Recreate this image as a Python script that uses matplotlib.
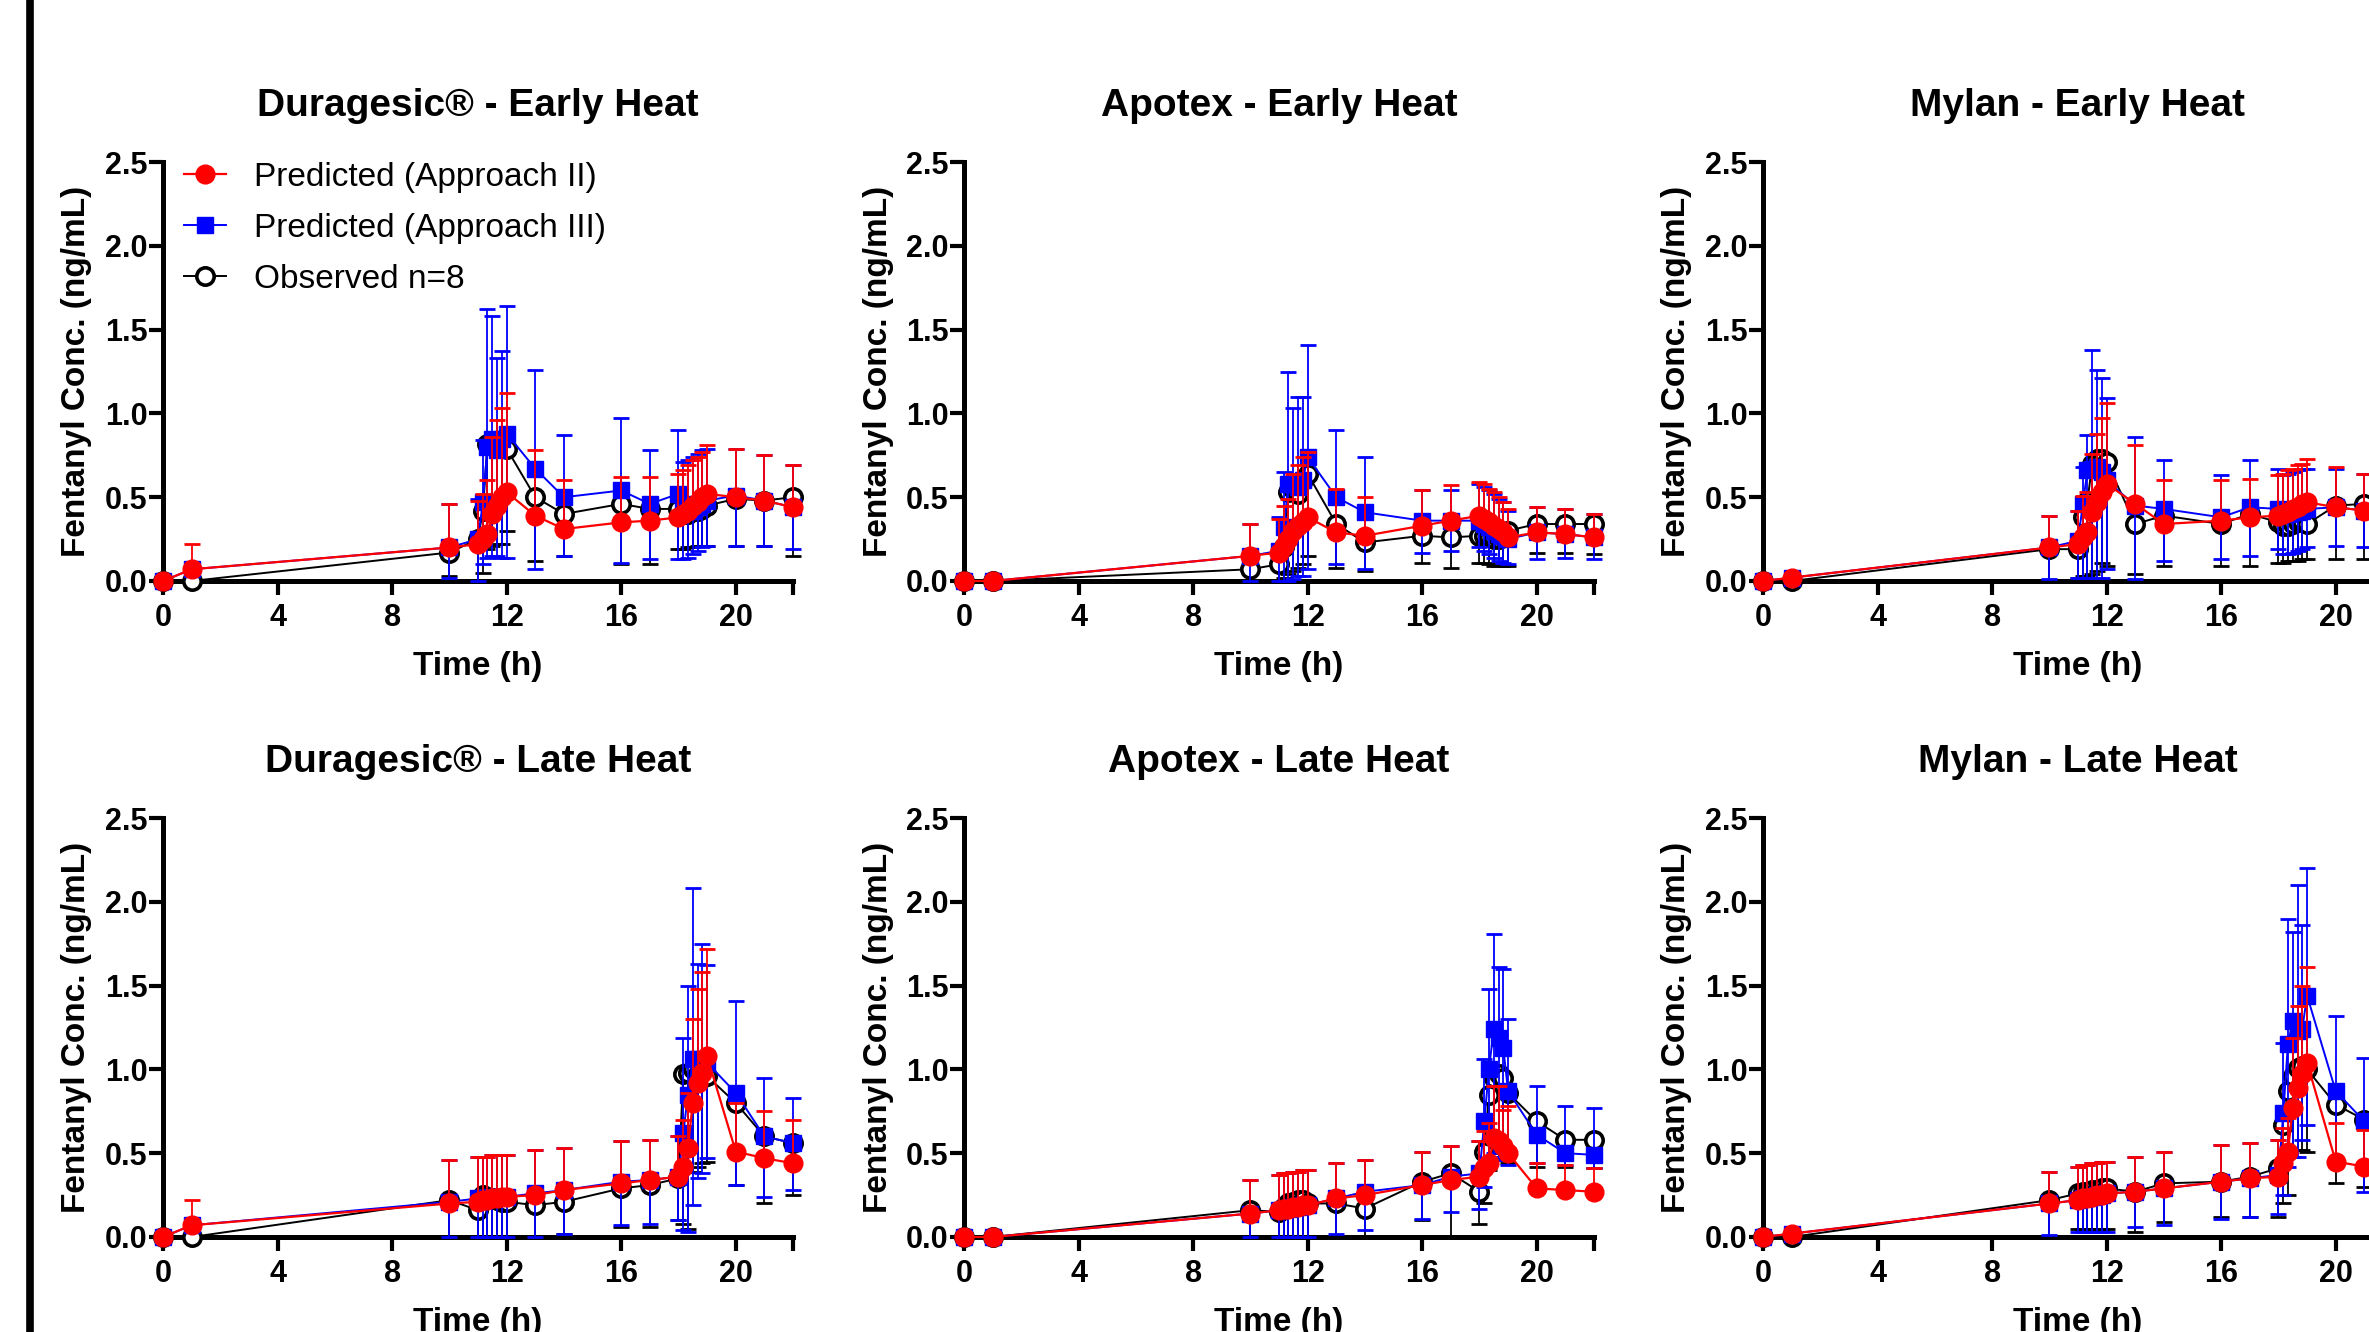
import numpy as np
import matplotlib
matplotlib.use('Agg')
import matplotlib.pyplot as plt
from matplotlib.lines import Line2D

plt.rcParams['font.family'] = ['Liberation Sans', 'DejaVu Sans']

W, H = 2369, 1332

# sampling times (h)
time_h = [0, 1, 10, 11, 11.17, 11.33, 11.5, 11.67, 11.83, 12, 13, 14, 16, 17,
          18, 18.17, 18.33, 18.5, 18.67, 18.83, 19, 20, 21, 22]

# ---- Duragesic - Early Heat
dur_e_red = [0, 0.07, 0.20, 0.22, 0.25, 0.28, 0.40, 0.45, 0.50, 0.53, 0.39, 0.31, 0.35, 0.36, 0.38, 0.40, 0.42, 0.45, 0.47, 0.50, 0.52, 0.50, 0.48, 0.44]
dur_e_red_hi = [0, 0.22, 0.46, 0.48, 0.52, 0.60, 0.86, 0.96, 1.03, 1.12, 0.78, 0.60, 0.62, 0.62, 0.64, 0.66, 0.69, 0.72, 0.74, 0.77, 0.81, 0.79, 0.75, 0.69]
dur_e_blue = [0, 0.07, 0.20, 0.25, 0.47, 0.80, 0.85, 0.78, 0.85, 0.88, 0.67, 0.50, 0.54, 0.46, 0.52, 0.46, 0.42, 0.42, 0.44, 0.46, 0.48, 0.51, 0.48, 0.44]
dur_e_blue_hi = [0, 0.07, 0.46, 0.49, 0.84, 1.62, 1.58, 1.33, 1.37, 1.64, 1.26, 0.87, 0.97, 0.78, 0.90, 0.71, 0.72, 0.74, 0.76, 0.78, 0.79, 0.79, 0.75, 0.69]
dur_e_blue_lo = [0, 0.07, 0.02, 0.0, 0.10, 0.14, 0.15, 0.15, 0.14, 0.14, 0.07, 0.15, 0.11, 0.13, 0.13, 0.13, 0.14, 0.16, 0.18, 0.20, 0.21, 0.21, 0.21, 0.19]
dur_e_obs = [0, 0, 0.17, 0.25, 0.42, 0.82, 0.83, 0.80, 0.80, 0.79, 0.50, 0.40, 0.46, 0.43, 0.43, 0.40, 0.40, 0.42, 0.42, 0.43, 0.45, 0.49, 0.48, 0.50]
dur_e_obs_lo = [0, 0, 0.03, 0.0, 0.05, 0.19, 0.21, 0.22, 0.22, 0.30, 0.12, 0.15, 0.10, 0.10, 0.19, 0.19, 0.20, 0.20, 0.21, 0.21, 0.21, 0.21, 0.21, 0.15]

# ---- Apotex - Early Heat
apo_e_red = [0, 0, 0.15, 0.17, 0.21, 0.25, 0.30, 0.33, 0.35, 0.38, 0.29, 0.27, 0.33, 0.36, 0.39, 0.37, 0.35, 0.33, 0.31, 0.29, 0.26, 0.29, 0.28, 0.26]
apo_e_red_hi = [0, 0, 0.34, 0.37, 0.45, 0.49, 0.64, 0.69, 0.74, 0.77, 0.55, 0.50, 0.54, 0.57, 0.59, 0.58, 0.55, 0.53, 0.50, 0.47, 0.43, 0.44, 0.43, 0.40]
apo_e_blue = [0, 0, 0.15, 0.18, 0.32, 0.58, 0.58, 0.56, 0.60, 0.74, 0.50, 0.41, 0.36, 0.36, 0.36, 0.34, 0.32, 0.30, 0.28, 0.27, 0.25, 0.29, 0.28, 0.26]
apo_e_blue_hi = [0, 0, 0.34, 0.38, 0.65, 1.25, 1.03, 1.10, 1.10, 1.41, 0.90, 0.74, 0.54, 0.54, 0.58, 0.56, 0.54, 0.52, 0.49, 0.47, 0.42, 0.44, 0.43, 0.40]
apo_e_blue_lo = [0, 0, 0.0, 0.0, 0.0, 0.0, 0.01, 0.03, 0.03, 0.07, 0.10, 0.07, 0.17, 0.18, 0.20, 0.18, 0.16, 0.14, 0.12, 0.11, 0.10, 0.13, 0.14, 0.13]
apo_e_obs = [0, 0, 0.07, 0.10, 0.20, 0.53, 0.55, 0.52, 0.60, 0.64, 0.34, 0.23, 0.27, 0.26, 0.27, 0.27, 0.26, 0.25, 0.25, 0.26, 0.30, 0.34, 0.34, 0.34]
apo_e_obs_lo = [0, 0, 0.0, 0.0, 0.02, 0.04, 0.06, 0.08, 0.10, 0.15, 0.08, 0.06, 0.11, 0.08, 0.11, 0.11, 0.10, 0.09, 0.09, 0.09, 0.09, 0.17, 0.17, 0.16]

# ---- Mylan - Early Heat
myl_e_red = [0, 0.02, 0.20, 0.22, 0.26, 0.29, 0.41, 0.47, 0.53, 0.58, 0.46, 0.34, 0.36, 0.38, 0.39, 0.40, 0.41, 0.43, 0.44, 0.46, 0.47, 0.44, 0.42, 0.41]
myl_e_red_hi = [0, 0.02, 0.39, 0.42, 0.51, 0.53, 0.76, 0.88, 0.97, 1.06, 0.81, 0.60, 0.60, 0.61, 0.63, 0.64, 0.66, 0.67, 0.69, 0.70, 0.73, 0.68, 0.64, 0.62]
myl_e_blue = [0, 0.02, 0.20, 0.24, 0.46, 0.66, 0.67, 0.68, 0.65, 0.60, 0.45, 0.43, 0.38, 0.44, 0.43, 0.40, 0.40, 0.41, 0.41, 0.42, 0.43, 0.44, 0.42, 0.41]
myl_e_blue_hi = [0, 0.02, 0.39, 0.42, 0.68, 0.87, 1.38, 1.26, 1.21, 1.09, 0.86, 0.72, 0.63, 0.72, 0.67, 0.63, 0.64, 0.65, 0.66, 0.67, 0.67, 0.67, 0.64, 0.62]
myl_e_blue_lo = [0, 0.02, 0.01, 0.02, 0.02, 0.02, 0.02, 0.02, 0.02, 0.07, 0.01, 0.12, 0.13, 0.15, 0.19, 0.16, 0.16, 0.17, 0.18, 0.19, 0.20, 0.21, 0.20, 0.19]
myl_e_obs = [0, 0, 0.19, 0.19, 0.38, 0.48, 0.70, 0.73, 0.73, 0.71, 0.34, 0.39, 0.34, 0.40, 0.35, 0.33, 0.33, 0.34, 0.35, 0.36, 0.34, 0.45, 0.46, 0.45]
myl_e_obs_lo = [0, 0, 0.0, 0.02, 0.03, 0.03, 0.04, 0.06, 0.11, 0.09, 0.04, 0.09, 0.09, 0.09, 0.11, 0.11, 0.12, 0.12, 0.12, 0.13, 0.13, 0.13, 0.13, 0.13]

# ---- Duragesic - Late Heat
dur_l_red = [0, 0.07, 0.20, 0.21, 0.22, 0.22, 0.23, 0.23, 0.24, 0.24, 0.25, 0.28, 0.32, 0.34, 0.36, 0.42, 0.53, 0.80, 0.92, 0.98, 1.08, 0.51, 0.47, 0.44]
dur_l_red_hi = [0, 0.22, 0.46, 0.48, 0.48, 0.48, 0.49, 0.49, 0.49, 0.49, 0.52, 0.53, 0.57, 0.58, 0.60, 0.70, 0.86, 1.30, 1.48, 1.58, 1.72, 0.80, 0.75, 0.70]
dur_l_blue = [0, 0.07, 0.21, 0.23, 0.23, 0.23, 0.24, 0.24, 0.24, 0.24, 0.26, 0.28, 0.33, 0.34, 0.36, 0.62, 0.85, 1.06, 1.06, 1.05, 1.04, 0.86, 0.60, 0.56]
dur_l_blue_hi = [0, 0.07, 0.46, 0.48, 0.48, 0.48, 0.49, 0.49, 0.49, 0.49, 0.52, 0.53, 0.57, 0.58, 0.60, 1.19, 1.50, 2.08, 1.63, 1.75, 1.62, 1.41, 0.95, 0.83]
dur_l_blue_lo = [0, 0.07, 0.0, 0.0, 0.0, 0.0, 0.0, 0.0, 0.0, 0.0, 0.0, 0.02, 0.07, 0.08, 0.10, 0.04, 0.03, 0.19, 0.35, 0.38, 0.47, 0.31, 0.24, 0.28]
dur_l_obs = [0, 0, 0.22, 0.16, 0.25, 0.24, 0.23, 0.22, 0.21, 0.21, 0.19, 0.21, 0.29, 0.31, 0.35, 0.97, 0.98, 1.00, 0.97, 0.95, 0.96, 0.80, 0.60, 0.56]
dur_l_obs_lo = [0, 0, 0.0, 0.0, 0.0, 0.0, 0.0, 0.0, 0.0, 0.0, 0.0, 0.02, 0.06, 0.06, 0.10, 0.08, 0.05, 0.39, 0.42, 0.44, 0.45, 0.31, 0.20, 0.25]

# ---- Apotex - Late Heat
apo_l_red = [0, 0, 0.14, 0.16, 0.17, 0.17, 0.18, 0.18, 0.19, 0.19, 0.23, 0.25, 0.31, 0.34, 0.36, 0.41, 0.44, 0.59, 0.57, 0.54, 0.50, 0.29, 0.28, 0.27]
apo_l_red_hi = [0, 0, 0.34, 0.37, 0.38, 0.38, 0.39, 0.39, 0.40, 0.40, 0.44, 0.46, 0.51, 0.54, 0.57, 0.63, 0.68, 0.90, 0.90, 0.76, 0.78, 0.44, 0.43, 0.41]
apo_l_blue = [0, 0, 0.14, 0.16, 0.17, 0.17, 0.18, 0.18, 0.19, 0.19, 0.23, 0.27, 0.31, 0.36, 0.38, 0.69, 1.00, 1.24, 1.19, 1.13, 0.87, 0.61, 0.50, 0.49]
apo_l_blue_hi = [0, 0, 0.34, 0.37, 0.38, 0.38, 0.39, 0.39, 0.40, 0.40, 0.44, 0.46, 0.51, 0.54, 0.57, 1.06, 1.48, 1.81, 1.61, 1.60, 1.30, 0.90, 0.78, 0.77]
apo_l_blue_lo = [0, 0, 0.0, 0.0, 0.0, 0.0, 0.0, 0.0, 0.0, 0.0, 0.02, 0.04, 0.11, 0.15, 0.17, 0.30, 0.44, 0.50, 0.48, 0.46, 0.43, 0.44, 0.43, 0.41]
apo_l_obs = [0, 0, 0.16, 0.15, 0.18, 0.20, 0.21, 0.22, 0.22, 0.20, 0.20, 0.17, 0.33, 0.38, 0.27, 0.51, 0.85, 0.95, 0.97, 0.95, 0.86, 0.69, 0.58, 0.58]
apo_l_obs_lo = [0, 0, 0.0, 0.0, 0.0, 0.0, 0.0, 0.0, 0.0, 0.0, 0.0, 0.0, 0.10, 0.0, 0.08, 0.20, 0.40, 0.50, 0.48, 0.46, 0.44, 0.42, 0.42, 0.41]

# ---- Mylan - Late Heat
myl_l_red = [0, 0.02, 0.20, 0.22, 0.23, 0.23, 0.24, 0.25, 0.25, 0.26, 0.27, 0.29, 0.33, 0.35, 0.36, 0.44, 0.51, 0.77, 0.89, 0.97, 1.04, 0.45, 0.42, 0.41]
myl_l_red_hi = [0, 0.02, 0.39, 0.42, 0.43, 0.43, 0.44, 0.44, 0.45, 0.45, 0.48, 0.51, 0.55, 0.56, 0.58, 0.65, 0.71, 1.19, 1.38, 1.50, 1.61, 0.68, 0.64, 0.62]
myl_l_blue = [0, 0.02, 0.20, 0.22, 0.23, 0.23, 0.24, 0.25, 0.25, 0.26, 0.27, 0.29, 0.33, 0.35, 0.37, 0.74, 1.15, 1.29, 1.23, 1.24, 1.44, 0.87, 0.69, 0.64]
myl_l_blue_hi = [0, 0.02, 0.39, 0.42, 0.43, 0.43, 0.44, 0.44, 0.45, 0.45, 0.48, 0.51, 0.55, 0.56, 0.58, 1.16, 1.90, 1.82, 2.10, 1.86, 2.20, 1.32, 1.07, 0.98]
myl_l_blue_lo = [0, 0.02, 0.01, 0.03, 0.03, 0.03, 0.03, 0.03, 0.03, 0.03, 0.06, 0.07, 0.11, 0.12, 0.14, 0.25, 0.42, 0.48, 0.48, 0.58, 0.67, 0.47, 0.27, 0.25]
myl_l_obs = [0, 0, 0.22, 0.26, 0.27, 0.27, 0.28, 0.28, 0.29, 0.29, 0.27, 0.32, 0.33, 0.36, 0.41, 0.67, 0.87, 0.96, 1.01, 1.02, 1.00, 0.79, 0.70, 0.66]
myl_l_obs_lo = [0, 0, 0.0, 0.05, 0.05, 0.05, 0.05, 0.05, 0.05, 0.05, 0.03, 0.09, 0.12, 0.12, 0.12, 0.20, 0.25, 0.52, 0.52, 0.52, 0.51, 0.32, 0.30, 0.28]

panels = [
    ('Duragesic® - Early Heat', dur_e_red, dur_e_red_hi, dur_e_blue, dur_e_blue_lo, dur_e_blue_hi, dur_e_obs, dur_e_obs_lo),
    ('Apotex - Early Heat', apo_e_red, apo_e_red_hi, apo_e_blue, apo_e_blue_lo, apo_e_blue_hi, apo_e_obs, apo_e_obs_lo),
    ('Mylan - Early Heat', myl_e_red, myl_e_red_hi, myl_e_blue, myl_e_blue_lo, myl_e_blue_hi, myl_e_obs, myl_e_obs_lo),
    ('Duragesic® - Late Heat', dur_l_red, dur_l_red_hi, dur_l_blue, dur_l_blue_lo, dur_l_blue_hi, dur_l_obs, dur_l_obs_lo),
    ('Apotex - Late Heat', apo_l_red, apo_l_red_hi, apo_l_blue, apo_l_blue_lo, apo_l_blue_hi, apo_l_obs, apo_l_obs_lo),
    ('Mylan - Late Heat', myl_l_red, myl_l_red_hi, myl_l_blue, myl_l_blue_lo, myl_l_blue_hi, myl_l_obs, myl_l_obs_lo),
]

RED = '#ff0000'
BLUE = '#0000ff'
CAP = 12
RED_MS, BLUE_MS, OBS_MS = 13.5, 12, 12.5


def bars(ax, t, a, b, color, z):
    # vertical bar from a to b, cap drawn at b
    t = np.asarray(t, float)
    a = np.asarray(a, float)
    b = np.asarray(b, float)
    keep = np.abs(b - a) > 0.004
    ax.vlines(t[keep], a[keep], b[keep], colors=color, lw=1.3, zorder=z, clip_on=False)
    ax.plot(t[keep], b[keep], ls='none', marker='_', ms=CAP, mew=2.0,
            color=color, zorder=z, clip_on=False)


def draw_panel(ax, title, red, red_hi, blue, blue_lo, blue_hi, obs, obs_lo):
    t = time_h
    # observed (bars downward)
    bars(ax, t, obs, obs_lo, 'black', 3)
    ax.plot(t, obs, color='black', lw=1.4, marker='o', ms=OBS_MS, mfc='white',
            mec='black', mew=2.6, zorder=4, clip_on=False)
    # approach III (bars both ways)
    bars(ax, t, blue, blue_hi, BLUE, 5)
    bars(ax, t, blue, blue_lo, BLUE, 5)
    ax.plot(t, blue, color=BLUE, lw=1.4, marker='s', ms=BLUE_MS, mfc=BLUE,
            mec=BLUE, zorder=6, clip_on=False)
    # approach II (bars upward)
    bars(ax, t, red, red_hi, RED, 7)
    ax.plot(t, red, color=RED, lw=1.6, marker='o', ms=RED_MS, mfc=RED,
            mec=RED, zorder=8, clip_on=False)

    ax.set_xlim(0, 22)
    ax.set_ylim(0, 2.5)
    ax.set_xticks([0, 4, 8, 12, 16, 20, 22])
    ax.set_xticklabels(['0', '4', '8', '12', '16', '20', ''])
    ax.set_yticks([0, 0.5, 1.0, 1.5, 2.0, 2.5])
    ax.set_yticklabels(['0.0', '0.5', '1.0', '1.5', '2.0', '2.5'])
    for side in ('top', 'right'):
        ax.spines[side].set_visible(False)
    for side in ('left', 'bottom'):
        ax.spines[side].set_linewidth(3.6)
    ax.tick_params(axis='both', direction='out', length=10, width=3,
                   labelsize=22)
    ax.tick_params(axis='x', pad=6)
    ax.tick_params(axis='y', pad=1)
    for lab in ax.get_xticklabels() + ax.get_yticklabels():
        lab.set_fontweight('bold')

    ax.text(0.5, 1 + 56 / 418, title, transform=ax.transAxes, ha='center',
            va='center', fontsize=28, fontweight='bold')
    ax.set_ylabel('Fentanyl Conc. (ng/mL)', fontsize=24, fontweight='bold')
    ax.yaxis.set_label_coords(-86 / 630, 0.5)
    ax.set_xlabel('Time (h)', fontsize=24, fontweight='bold')
    ax.xaxis.set_label_coords(0.5, -85 / 418)
    ax.xaxis.label.set_va('center')
    ax.yaxis.label.set_va('center')


fig = plt.figure(figsize=(W / 100, H / 100), dpi=100)

col_x = [163, 964, 1763]
row_top = [162, 818]
ax_w, ax_h = 630, 419

axes = []
for i, p in enumerate(panels):
    r, c = divmod(i, 3)
    left = col_x[c] / W
    bottom = (H - row_top[r] - ax_h) / H
    ax = fig.add_axes([left, bottom, ax_w / W, ax_h / H])
    draw_panel(ax, *p)
    axes.append(ax)

handles = [
    Line2D([], [], color=RED, lw=1.6, marker='o', ms=RED_MS, mfc=RED, mec=RED),
    Line2D([], [], color=BLUE, lw=1.4, marker='s', ms=BLUE_MS, mfc=BLUE, mec=BLUE),
    Line2D([], [], color='black', lw=1.4, marker='o', ms=OBS_MS, mfc='white',
           mec='black', mew=2.6),
]
labels = ['Predicted (Approach II)', 'Predicted (Approach III)', 'Observed n=8']
axes[0].legend(handles, labels, loc='upper left', bbox_to_anchor=(0.033, 1.0),
               frameon=False, fontsize=24, handlelength=1.28, handletextpad=0.83,
               labelspacing=0.6, borderaxespad=0, borderpad=0)

# thick frame line on the left edge
fig.add_artist(Line2D([30 / W, 30 / W], [0, 1], transform=fig.transFigure,
                      color='black', lw=5.5))

fig.savefig('out.png', dpi=100)
